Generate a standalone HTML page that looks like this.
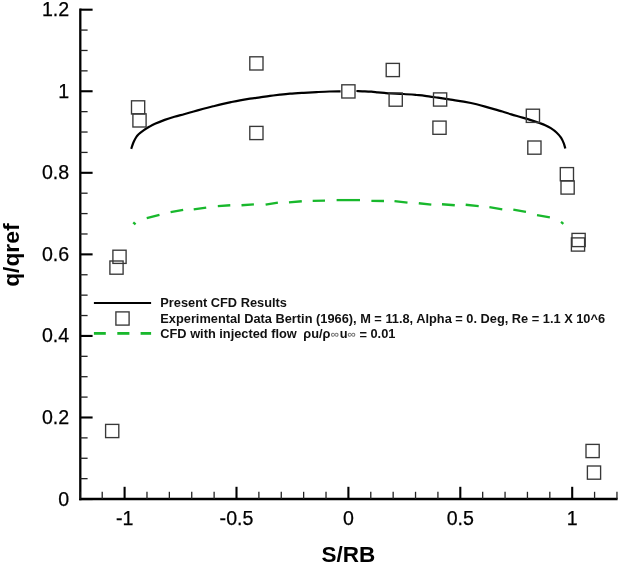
<!DOCTYPE html>
<html><head><meta charset="utf-8"><title>q/qref vs S/RB</title>
<style>
html,body{margin:0;padding:0;background:#fff;}
body{width:620px;height:565px;overflow:hidden;}
svg{display:block;}
.tl{font-family:"Liberation Sans",Arial,sans-serif;font-size:19.6px;fill:#000;stroke:#000;stroke-width:0.25px;}
.at{font-family:"Liberation Sans",Arial,sans-serif;font-size:22.5px;font-weight:bold;fill:#000;}
.at2{font-family:"Liberation Sans",Arial,sans-serif;font-size:22.8px;font-weight:bold;fill:#000;}
.lg{font-family:"Liberation Sans",Arial,sans-serif;font-size:12.8px;font-weight:bold;fill:#111;}
.inf{font-family:"Liberation Sans",Arial,sans-serif;font-size:11.8px;font-weight:bold;fill:#7a7a7a;}
</style></head>
<body>
<svg width="620" height="565" viewBox="0 0 620 565">
<rect width="620" height="565" fill="#fff"/>
<line x1="80.3" y1="8.4" x2="80.3" y2="500.15" stroke="#000" stroke-width="2.3"/>
<line x1="79.14999999999999" y1="499.0" x2="617.6" y2="499.0" stroke="#000" stroke-width="2.3"/>
<line x1="80.3" y1="499.05" x2="92.6" y2="499.05" stroke="#000" stroke-width="2.1"/>
<line x1="80.3" y1="478.66" x2="87.6" y2="478.66" stroke="#222" stroke-width="1.3"/>
<line x1="80.3" y1="458.27" x2="87.6" y2="458.27" stroke="#222" stroke-width="1.3"/>
<line x1="80.3" y1="437.88" x2="87.6" y2="437.88" stroke="#222" stroke-width="1.3"/>
<line x1="80.3" y1="417.49" x2="92.6" y2="417.49" stroke="#000" stroke-width="2.1"/>
<line x1="80.3" y1="397.1" x2="87.6" y2="397.1" stroke="#222" stroke-width="1.3"/>
<line x1="80.3" y1="376.71" x2="87.6" y2="376.71" stroke="#222" stroke-width="1.3"/>
<line x1="80.3" y1="356.32" x2="87.6" y2="356.32" stroke="#222" stroke-width="1.3"/>
<line x1="80.3" y1="335.93" x2="92.6" y2="335.93" stroke="#000" stroke-width="2.1"/>
<line x1="80.3" y1="315.54" x2="87.6" y2="315.54" stroke="#222" stroke-width="1.3"/>
<line x1="80.3" y1="295.15" x2="87.6" y2="295.15" stroke="#222" stroke-width="1.3"/>
<line x1="80.3" y1="274.76" x2="87.6" y2="274.76" stroke="#222" stroke-width="1.3"/>
<line x1="80.3" y1="254.37" x2="92.6" y2="254.37" stroke="#000" stroke-width="2.1"/>
<line x1="80.3" y1="233.98" x2="87.6" y2="233.98" stroke="#222" stroke-width="1.3"/>
<line x1="80.3" y1="213.59" x2="87.6" y2="213.59" stroke="#222" stroke-width="1.3"/>
<line x1="80.3" y1="193.2" x2="87.6" y2="193.2" stroke="#222" stroke-width="1.3"/>
<line x1="80.3" y1="172.81" x2="92.6" y2="172.81" stroke="#000" stroke-width="2.1"/>
<line x1="80.3" y1="152.42" x2="87.6" y2="152.42" stroke="#222" stroke-width="1.3"/>
<line x1="80.3" y1="132.03" x2="87.6" y2="132.03" stroke="#222" stroke-width="1.3"/>
<line x1="80.3" y1="111.64" x2="87.6" y2="111.64" stroke="#222" stroke-width="1.3"/>
<line x1="80.3" y1="91.25" x2="92.6" y2="91.25" stroke="#000" stroke-width="2.1"/>
<line x1="80.3" y1="70.86" x2="87.6" y2="70.86" stroke="#222" stroke-width="1.3"/>
<line x1="80.3" y1="50.47" x2="87.6" y2="50.47" stroke="#222" stroke-width="1.3"/>
<line x1="80.3" y1="30.08" x2="87.6" y2="30.08" stroke="#222" stroke-width="1.3"/>
<line x1="80.3" y1="9.69" x2="92.6" y2="9.69" stroke="#000" stroke-width="2.1"/>
<line x1="79.84" y1="499.0" x2="79.84" y2="491.8" stroke="#222" stroke-width="1.3"/>
<line x1="102.22" y1="499.0" x2="102.22" y2="491.8" stroke="#222" stroke-width="1.3"/>
<line x1="124.6" y1="499.0" x2="124.6" y2="486.8" stroke="#000" stroke-width="2.1"/>
<line x1="146.98" y1="499.0" x2="146.98" y2="491.8" stroke="#222" stroke-width="1.3"/>
<line x1="169.36" y1="499.0" x2="169.36" y2="491.8" stroke="#222" stroke-width="1.3"/>
<line x1="191.74" y1="499.0" x2="191.74" y2="491.8" stroke="#222" stroke-width="1.3"/>
<line x1="214.12" y1="499.0" x2="214.12" y2="491.8" stroke="#222" stroke-width="1.3"/>
<line x1="236.5" y1="499.0" x2="236.5" y2="486.8" stroke="#000" stroke-width="2.1"/>
<line x1="258.88" y1="499.0" x2="258.88" y2="491.8" stroke="#222" stroke-width="1.3"/>
<line x1="281.26" y1="499.0" x2="281.26" y2="491.8" stroke="#222" stroke-width="1.3"/>
<line x1="303.64" y1="499.0" x2="303.64" y2="491.8" stroke="#222" stroke-width="1.3"/>
<line x1="326.02" y1="499.0" x2="326.02" y2="491.8" stroke="#222" stroke-width="1.3"/>
<line x1="348.4" y1="499.0" x2="348.4" y2="486.8" stroke="#000" stroke-width="2.1"/>
<line x1="370.78" y1="499.0" x2="370.78" y2="491.8" stroke="#222" stroke-width="1.3"/>
<line x1="393.16" y1="499.0" x2="393.16" y2="491.8" stroke="#222" stroke-width="1.3"/>
<line x1="415.54" y1="499.0" x2="415.54" y2="491.8" stroke="#222" stroke-width="1.3"/>
<line x1="437.92" y1="499.0" x2="437.92" y2="491.8" stroke="#222" stroke-width="1.3"/>
<line x1="460.3" y1="499.0" x2="460.3" y2="486.8" stroke="#000" stroke-width="2.1"/>
<line x1="482.68" y1="499.0" x2="482.68" y2="491.8" stroke="#222" stroke-width="1.3"/>
<line x1="505.06" y1="499.0" x2="505.06" y2="491.8" stroke="#222" stroke-width="1.3"/>
<line x1="527.44" y1="499.0" x2="527.44" y2="491.8" stroke="#222" stroke-width="1.3"/>
<line x1="549.82" y1="499.0" x2="549.82" y2="491.8" stroke="#222" stroke-width="1.3"/>
<line x1="572.2" y1="499.0" x2="572.2" y2="486.8" stroke="#000" stroke-width="2.1"/>
<line x1="594.58" y1="499.0" x2="594.58" y2="491.8" stroke="#222" stroke-width="1.3"/>
<line x1="616.96" y1="499.0" x2="616.96" y2="491.8" stroke="#222" stroke-width="1.3"/>
<text x="69.2" y="505.55" text-anchor="end" class="tl">0</text>
<text x="69.2" y="423.99" text-anchor="end" class="tl">0.2</text>
<text x="69.2" y="342.43" text-anchor="end" class="tl">0.4</text>
<text x="69.2" y="260.87" text-anchor="end" class="tl">0.6</text>
<text x="69.2" y="179.31" text-anchor="end" class="tl">0.8</text>
<text x="69.2" y="97.75" text-anchor="end" class="tl">1</text>
<text x="69.2" y="16.19" text-anchor="end" class="tl">1.2</text>
<text x="124.6" y="525.3" text-anchor="middle" class="tl">-1</text>
<text x="236.5" y="525.3" text-anchor="middle" class="tl">-0.5</text>
<text x="348.4" y="525.3" text-anchor="middle" class="tl">0</text>
<text x="460.3" y="525.3" text-anchor="middle" class="tl">0.5</text>
<text x="572.2" y="525.3" text-anchor="middle" class="tl">1</text>
<text x="348.3" y="562.1" text-anchor="middle" class="at">S/RB</text>
<text transform="translate(18.9,255.2) rotate(-90)" text-anchor="middle" class="at2">q/qref</text>
<path d="M131.2,148.9 C131.55,147.88 132.50,144.70 133.3,142.8 C134.10,140.90 135.12,138.92 136,137.5 C136.88,136.08 137.28,135.53 138.6,134.3 C139.92,133.07 142.13,131.35 143.9,130.1 C145.67,128.85 147.35,127.85 149.2,126.8 C151.05,125.75 152.42,124.95 155,123.8 C157.58,122.65 161.47,121.07 164.7,119.9 C167.93,118.73 171.18,117.75 174.4,116.8 C177.62,115.85 180.78,115.08 184,114.2 C187.22,113.32 190.47,112.40 193.7,111.5 C196.93,110.60 200.17,109.67 203.4,108.8 C206.63,107.93 210.00,107.08 213.1,106.3 C216.20,105.52 219.02,104.80 222,104.1 C224.98,103.40 228.00,102.73 231,102.1 C234.00,101.47 236.83,100.87 240,100.3 C243.17,99.73 246.67,99.20 250,98.7 C253.33,98.20 256.67,97.77 260,97.3 C263.33,96.83 266.67,96.33 270,95.9 C273.33,95.47 276.67,95.07 280,94.7 C283.33,94.33 286.05,94.02 290,93.7 C293.95,93.38 299.27,93.07 303.7,92.8 C308.13,92.53 312.30,92.32 316.6,92.1 C320.90,91.88 325.50,91.63 329.5,91.5 C333.50,91.37 338.75,91.33 340.6,91.3" fill="none" stroke="#000" stroke-width="2.2"/>
<path d="M356.4,91.0 C357.82,91.05 362.40,91.18 364.9,91.3 C367.40,91.42 369.25,91.53 371.4,91.7 C373.55,91.87 375.65,92.10 377.8,92.3 C379.95,92.50 382.15,92.72 384.3,92.9 C386.45,93.08 387.48,93.22 390.7,93.4 C393.92,93.58 399.30,93.73 403.6,94.0 C407.90,94.27 412.93,94.70 416.5,95.0 C420.07,95.30 421.43,95.35 425,95.8 C428.57,96.25 433.60,97.05 437.9,97.7 C442.20,98.35 446.50,99.03 450.8,99.7 C455.10,100.37 459.40,100.93 463.7,101.7 C468.00,102.47 472.30,103.27 476.6,104.3 C480.90,105.33 485.20,106.70 489.5,107.9 C493.80,109.10 498.77,110.42 502.4,111.5 C506.03,112.58 507.93,113.38 511.3,114.4 C514.67,115.42 518.83,116.48 522.6,117.6 C526.37,118.72 531.08,120.20 533.9,121.1 C536.72,122.00 537.62,122.32 539.5,123.0 C541.38,123.68 543.32,124.33 545.2,125.2 C547.08,126.07 548.92,126.98 550.8,128.2 C552.68,129.42 554.80,130.92 556.5,132.5 C558.20,134.08 559.78,135.88 561,137.7 C562.22,139.52 563.08,141.60 563.8,143.4 C564.52,145.20 565.05,147.65 565.3,148.5" fill="none" stroke="#000" stroke-width="2.2"/>
<line x1="133.22" y1="222.27" x2="135.58" y2="224.33" stroke="#18b82c" stroke-width="2.3"/>
<line x1="146.72" y1="218.13" x2="159.48" y2="214.77" stroke="#18b82c" stroke-width="2.3"/>
<line x1="170.61" y1="212.09" x2="183.19" y2="209.81" stroke="#18b82c" stroke-width="2.3"/>
<line x1="193.70" y1="209.47" x2="206.20" y2="207.73" stroke="#18b82c" stroke-width="2.3"/>
<line x1="217.80" y1="206.13" x2="230.30" y2="205.27" stroke="#18b82c" stroke-width="2.3"/>
<line x1="241.50" y1="205.24" x2="253.90" y2="204.36" stroke="#18b82c" stroke-width="2.3"/>
<line x1="265.61" y1="204.69" x2="277.89" y2="202.51" stroke="#18b82c" stroke-width="2.3"/>
<line x1="289.00" y1="202.34" x2="301.80" y2="201.26" stroke="#18b82c" stroke-width="2.3"/>
<line x1="312.70" y1="200.80" x2="325.00" y2="200.70" stroke="#18b82c" stroke-width="2.3"/>
<line x1="336.60" y1="200.10" x2="360.00" y2="200.10" stroke="#18b82c" stroke-width="2.3"/>
<line x1="371.40" y1="200.90" x2="384.00" y2="201.00" stroke="#18b82c" stroke-width="2.3"/>
<line x1="394.50" y1="201.15" x2="407.50" y2="202.55" stroke="#18b82c" stroke-width="2.3"/>
<line x1="418.80" y1="203.24" x2="431.30" y2="204.66" stroke="#18b82c" stroke-width="2.3"/>
<line x1="442.00" y1="204.26" x2="454.80" y2="205.24" stroke="#18b82c" stroke-width="2.3"/>
<line x1="465.70" y1="204.75" x2="478.70" y2="206.15" stroke="#18b82c" stroke-width="2.3"/>
<line x1="489.41" y1="207.22" x2="502.29" y2="209.28" stroke="#18b82c" stroke-width="2.3"/>
<line x1="513.31" y1="209.51" x2="525.99" y2="211.79" stroke="#18b82c" stroke-width="2.3"/>
<line x1="537.01" y1="215.11" x2="549.89" y2="217.39" stroke="#18b82c" stroke-width="2.3"/>
<line x1="561.02" y1="221.87" x2="563.38" y2="223.93" stroke="#18b82c" stroke-width="2.3"/>
<rect x="131.50" y="100.80" width="13.2" height="13.2" fill="none" stroke="#383838" stroke-width="1.35"/>
<rect x="132.90" y="113.80" width="13.2" height="13.2" fill="none" stroke="#383838" stroke-width="1.35"/>
<rect x="249.80" y="56.80" width="13.2" height="13.2" fill="none" stroke="#383838" stroke-width="1.35"/>
<rect x="249.80" y="126.40" width="13.2" height="13.2" fill="none" stroke="#383838" stroke-width="1.35"/>
<rect x="341.80" y="84.80" width="13.2" height="13.2" fill="none" stroke="#383838" stroke-width="1.35"/>
<rect x="386.20" y="63.40" width="13.2" height="13.2" fill="none" stroke="#383838" stroke-width="1.35"/>
<rect x="389.10" y="93.00" width="13.2" height="13.2" fill="none" stroke="#383838" stroke-width="1.35"/>
<rect x="433.50" y="92.90" width="13.2" height="13.2" fill="none" stroke="#383838" stroke-width="1.35"/>
<rect x="432.90" y="121.10" width="13.2" height="13.2" fill="none" stroke="#383838" stroke-width="1.35"/>
<rect x="526.30" y="109.20" width="13.2" height="13.2" fill="none" stroke="#383838" stroke-width="1.35"/>
<rect x="527.80" y="141.00" width="13.2" height="13.2" fill="none" stroke="#383838" stroke-width="1.35"/>
<rect x="560.30" y="167.60" width="13.2" height="13.2" fill="none" stroke="#383838" stroke-width="1.35"/>
<rect x="561.00" y="180.90" width="13.2" height="13.2" fill="none" stroke="#383838" stroke-width="1.35"/>
<rect x="572.00" y="233.40" width="13.2" height="13.2" fill="none" stroke="#383838" stroke-width="1.35"/>
<rect x="571.40" y="237.90" width="13.2" height="13.2" fill="none" stroke="#383838" stroke-width="1.35"/>
<rect x="112.90" y="250.20" width="13.2" height="13.2" fill="none" stroke="#383838" stroke-width="1.35"/>
<rect x="109.90" y="261.00" width="13.2" height="13.2" fill="none" stroke="#383838" stroke-width="1.35"/>
<rect x="105.60" y="424.40" width="13.2" height="13.2" fill="none" stroke="#383838" stroke-width="1.35"/>
<rect x="586.00" y="444.40" width="13.2" height="13.2" fill="none" stroke="#383838" stroke-width="1.35"/>
<rect x="587.40" y="466.00" width="13.2" height="13.2" fill="none" stroke="#383838" stroke-width="1.35"/>
<line x1="93.9" y1="303" x2="151.1" y2="303" stroke="#000" stroke-width="2.2"/>
<rect x="115.90" y="311.90" width="13.2" height="13.2" fill="none" stroke="#383838" stroke-width="1.35"/>
<line x1="93.9" y1="333.4" x2="105.8" y2="333.4" stroke="#18b82c" stroke-width="2.8"/>
<line x1="117.3" y1="333.4" x2="129.4" y2="333.4" stroke="#18b82c" stroke-width="2.8"/>
<line x1="140.6" y1="333.4" x2="151.1" y2="333.4" stroke="#18b82c" stroke-width="2.8"/>
<text x="160.3" y="307.4" class="lg">Present CFD Results</text>
<text x="160.3" y="322.8" class="lg">Experimental Data Bertin (1966), M = 11.8, Alpha = 0. Deg, Re = 1.1 X 10^6</text>
<text x="160.3" y="338.1" class="lg">CFD with injected flow</text>
<text x="303.3" y="338.1" class="lg">ρu/ρ</text>
<text x="330.8" y="337.6" class="inf">∞</text>
<text x="339.8" y="338.1" class="lg">u</text>
<text x="347.6" y="337.6" class="inf">∞</text>
<text x="359.6" y="338.5" class="lg">=</text>
<text x="370.5" y="338.1" class="lg">0.01</text>
</svg>
</body></html>
